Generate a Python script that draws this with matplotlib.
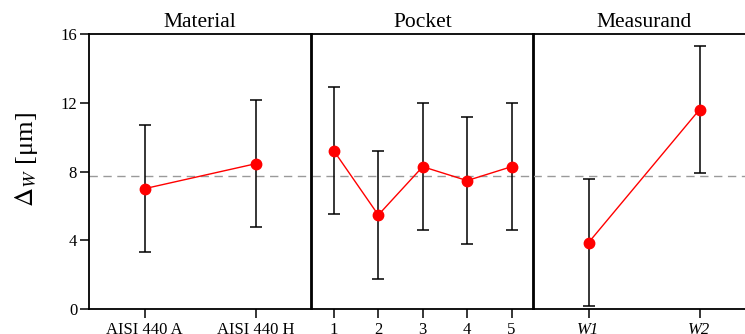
import matplotlib
matplotlib.use("Agg")
import matplotlib.pyplot as plt

plt.rcParams['font.family'] = ['Liberation Serif', 'DejaVu Serif']
plt.rcParams['mathtext.fontset'] = 'stix'

# Data
panel_titles = ["Material", "Pocket", "Measurand"]
material_labels = ["AISI 440 A", "AISI 440 H"]
material_vals = [7.0, 8.45]
material_err = [3.7, 3.7]

pocket_labels = ["1", "2", "3", "4", "5"]
pocket_vals = [9.2, 5.47, 8.28, 7.47, 8.28]
pocket_err = [3.7, 3.7, 3.7, 3.7, 3.7]

measurand_labels = ["W1", "W2"]
measurand_vals = [3.86, 11.6]
measurand_err = [3.7, 3.7]

grand_mean = 7.74
yticks = [0, 4, 8, 12, 16]

W, H = 745, 334
fig = plt.figure(figsize=(W / 100, H / 100), dpi=100)

left0 = 89
pw = 222
top_px, bot_px = 34, 309

panels = [
    (material_labels, material_vals, material_err, (-0.5, 1.5), [0, 1], False),
    (pocket_labels, pocket_vals, pocket_err, (0.5, 5.5), [1, 2, 3, 4, 5], False),
    (measurand_labels, measurand_vals, measurand_err, (0.5, 2.5), [1, 2], True),
]

lw_sp = 1.3
for i, (labels, vals, errs, xl, xs, ital) in enumerate(panels):
    x0 = left0 + i * pw + (0.7 if i == 1 else 0)
    ax = fig.add_axes([x0 / W, (H - bot_px) / H, pw / W, (bot_px - top_px) / H])
    ax.set_xlim(*xl)
    ax.set_ylim(0, 16)
    ax.axhline(grand_mean, color='#9a9a9a', lw=1.0, ls=(0, (6, 4)), zorder=1)
    ax.errorbar(xs, vals, yerr=errs, fmt='none', ecolor='black', elinewidth=1.1,
                capsize=4, capthick=1.1, zorder=2)
    ax.plot(xs, vals, color='#ff0000', lw=1.0, zorder=3)
    ax.plot(xs, vals, 'o', color='#ff0000', ms=7.5, zorder=4)
    ax.set_xticks(xs)
    ax.set_xticklabels(labels, fontsize=12, style='italic' if ital else 'normal')
    ax.tick_params(axis='x', direction='out', length=6.5, width=1.1, pad=2.5)
    ax.set_title(panel_titles[i], fontsize=15.5, pad=5)
    for s in ax.spines.values():
        s.set_linewidth(lw_sp)
    if i == 0:
        ax.set_yticks(yticks)
        ax.set_yticklabels([str(v) for v in yticks], fontsize=12)
        ax.tick_params(axis='y', direction='out', length=6.5, width=1.1, pad=2)
    else:
        ax.set_yticks([])
    ax.set_facecolor('none')

fig.text(27 / W, 1 - 160 / H, r'$\Delta_{W}$ [μm]', rotation=90, fontsize=19,
         ha='center', va='center')

fig.savefig("out.png", dpi=100)
